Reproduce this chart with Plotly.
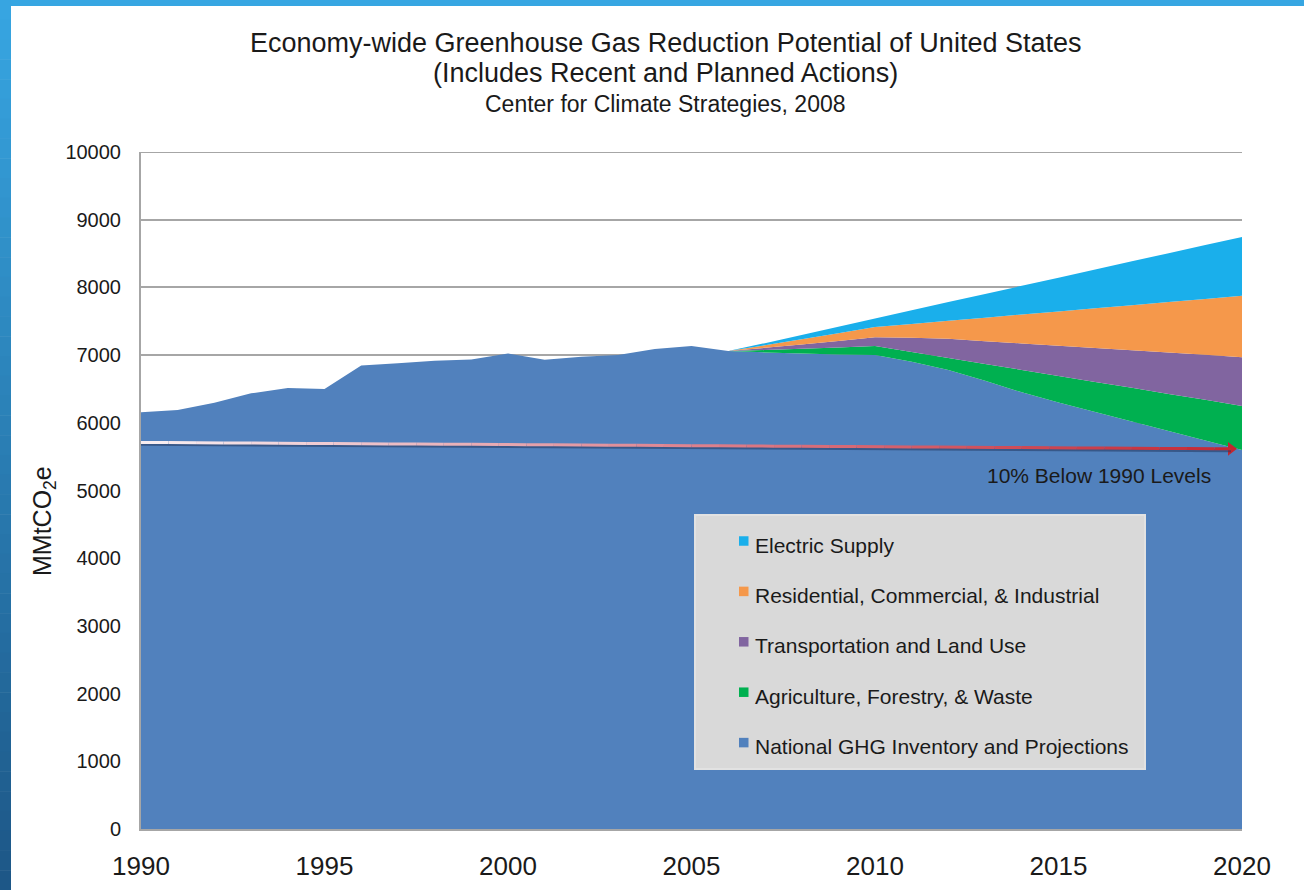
import plotly.graph_objects as go

# ---------------- data ----------------
YEARS = list(range(1990, 2021))
national_ghg = [6155, 6190, 6295, 6435, 6515, 6500, 6845, 6880, 6915, 6935,
                7025, 6930, 6975, 7000, 7090, 7135, 7060, 7040, 7025, 7010,
                7000, 6900, 6780, 6620, 6450, 6300, 6160, 6020, 5880, 5740, 5600]
# reduction wedges (zero before 2006)
agriculture = [0] * 16 + [0, 34, 68, 101, 135, 147, 178, 250, 331, 393, 444, 496, 547, 599, 650]
transportation = [0] * 16 + [0, 33, 65, 98, 130, 208, 282, 336, 391, 446, 501, 555, 610, 665, 720]
residential = [0] * 16 + [0, 38, 75, 113, 150, 206, 267, 347, 427, 506, 586, 666, 746, 825, 905]
electric = [0] * 16 + [0, 31, 63, 95, 127, 201, 276, 350, 425, 499, 573, 648, 722, 797, 870]

series_names = ["National GHG Inventory and Projections", "Agriculture, Forestry, & Waste",
                "Transportation and Land Use", "Residential, Commercial, & Industrial",
                "Electric Supply"]
series_values = [national_ghg, agriculture, transportation, residential, electric]
series_colors = ["#5181bd", "#00b050", "#8165a0", "#f5984b", "#1aafeb"]

REF_START = 5710   # 10% below 1990 line, left end
REF_END = 5615     # right end
REF_LABEL = "10% Below 1990 Levels"

x_ticks = [1990, 1995, 2000, 2005, 2010, 2015, 2020]
y_ticks = list(range(0, 10001, 1000))
y_ticktext = [str(v) for v in y_ticks]

TITLE1 = "Economy-wide Greenhouse Gas Reduction Potential of United States"
TITLE2 = "(Includes Recent and Planned Actions)"
TITLE3 = "Center for Climate Strategies, 2008"

# ---------------- layout geometry ----------------
W, H = 1304, 890
L, R, T, B = 141, 1242, 152, 829  # plot area in pixels
FONT = "Liberation Sans, Arial, sans-serif"
TXT = "#1a1a1a"


def px(X):
    return (X - L) / (R - L)


def py(Y):
    return (B - Y) / (B - T)


fig = go.Figure()
for name, vals, col in zip(series_names, series_values, series_colors):
    fig.add_trace(go.Scatter(x=YEARS, y=vals, name=name, mode="none",
                             stackgroup="one", fillcolor=col, showlegend=False,
                             line=dict(width=0), hoverinfo="skip"))

shapes = []
annotations = []

# top gridline (at the upper edge of the plot)
shapes.append(dict(type="line", xref="paper", yref="y", x0=0, x1=1,
                   y0=y_ticks[-1], y1=y_ticks[-1],
                   line=dict(color="#a6a6a6", width=2), layer="below"))

# reference line (shadow + gradient)
END_X = YEARS[-1] - 0.3
span = YEARS[-1] - YEARS[0]
shapes.append(dict(type="line", xref="x", yref="y", x0=YEARS[0], x1=END_X,
                   y0=REF_START - 28, y1=REF_END - 28,
                   line=dict(color="rgba(35,55,95,0.55)", width=3), layer="above"))
N = 40
c0, c1, c2 = (248, 240, 244), (222, 130, 142), (196, 38, 50)
for i in range(N):
    t0, t1 = i / N, (i + 1) / N
    tm = (t0 + t1) / 2
    if tm < 0.5:
        a, b_, f = c0, c1, tm / 0.5
    else:
        a, b_, f = c1, c2, (tm - 0.5) / 0.5
    col = "rgb(%d,%d,%d)" % tuple(round(a[k] + (b_[k] - a[k]) * f) for k in range(3))
    xa = YEARS[0] + span * t0
    xb = min(YEARS[0] + span * t1, END_X)
    if xa >= END_X:
        continue
    ya = REF_START + (REF_END - REF_START) * (xa - YEARS[0]) / span
    yb = REF_START + (REF_END - REF_START) * (xb - YEARS[0]) / span
    shapes.append(dict(type="line", xref="x", yref="y", x0=xa, x1=xb, y0=ya, y1=yb,
                       line=dict(color=col, width=3), layer="above"))
# arrow head
fig.add_trace(go.Scatter(x=[END_X], y=[REF_END], mode="markers", showlegend=False,
                         marker=dict(symbol="triangle-right", size=12, color="#c4262f",
                                     line=dict(width=0)),
                         cliponaxis=False, hoverinfo="skip"))
annotations.append(dict(x=2016.1, y=5215, xref="x", yref="y", text=REF_LABEL,
                        showarrow=False, font=dict(family=FONT, size=21, color=TXT)))

# legend box (manual)
shapes.append(dict(type="rect", xref="paper", yref="paper", x0=px(695), x1=px(1145),
                   y0=py(769), y1=py(515), fillcolor="#d9d9d9",
                   line=dict(color="#e2e2e2", width=2), layer="above"))
legend_order = list(range(len(series_names)))[::-1]
for k, idx in enumerate(legend_order):
    ty = 545 + k * 50.4
    sq = 9.5
    shapes.append(dict(type="rect", xref="paper", yref="paper",
                       x0=px(739), x1=px(739 + sq), y0=py(ty - 4 + sq / 2), y1=py(ty - 4 - sq / 2),
                       fillcolor=series_colors[idx], line=dict(width=0), layer="above"))
    annotations.append(dict(x=px(753), y=py(ty), xref="paper", yref="paper",
                            xanchor="left", yanchor="middle", text=series_names[idx],
                            showarrow=False, font=dict(family=FONT, size=21, color=TXT)))

# titles
for txt, yy, sz in [(TITLE1, 43, 27), (TITLE2, 73, 27), (TITLE3, 104, 23)]:
    annotations.append(dict(x=px(665), y=py(yy), xref="paper", yref="paper",
                            xanchor="center", yanchor="middle", text=txt, showarrow=False,
                            font=dict(family=FONT, size=sz, color=TXT)))

# y-axis title
annotations.append(dict(x=px(44), y=py(521), xref="paper", yref="paper", textangle=-90,
                        xanchor="center", yanchor="middle", text="MMtCO<sub>2</sub>e",
                        showarrow=False, font=dict(family=FONT, size=25, color=TXT)))

# slide frame: top strip and left gradient strip
shapes.append(dict(type="rect", xref="paper", yref="paper", x0=px(0), x1=px(W),
                   y0=py(6), y1=py(0), fillcolor="#37a6e2", line=dict(width=0), layer="above"))
M = 45
top_c, bot_c = (55, 166, 226), (29, 86, 134)
for i in range(M):
    f = (i + 0.5) / M
    col = "rgb(%d,%d,%d)" % tuple(round(top_c[k] + (bot_c[k] - top_c[k]) * f) for k in range(3))
    shapes.append(dict(type="rect", xref="paper", yref="paper", x0=px(0), x1=px(11),
                       y0=py(H * (i + 1) / M + 0.5), y1=py(H * i / M),
                       fillcolor=col, line=dict(width=0), layer="above"))

fig.update_layout(
    width=W, height=H,
    margin=dict(l=L, r=W - R, t=T, b=H - B, pad=0),
    paper_bgcolor="white", plot_bgcolor="white",
    shapes=shapes, annotations=annotations,
    showlegend=False,
    font=dict(family=FONT, color=TXT),
    xaxis=dict(range=[YEARS[0], YEARS[-1]], tickvals=x_ticks, ticktext=[str(v) for v in x_ticks],
               showgrid=False, zeroline=False, showline=True, linecolor="#a6a6a6",
               linewidth=2, ticks="", tickfont=dict(family=FONT, size=26, color=TXT),
               ticklabelstandoff=13, automargin=False, fixedrange=True),
    yaxis=dict(range=[0, 10000], tickvals=y_ticks, ticktext=y_ticktext, showgrid=True,
               gridcolor="#a6a6a6", gridwidth=2, zeroline=False, showline=True,
               linecolor="#a6a6a6", linewidth=2, ticks="",
               tickfont=dict(family=FONT, size=20, color=TXT),
               ticklabelstandoff=14, automargin=False, fixedrange=True),
)

fig.write_html("out.html", config={"displayModeBar": False})
